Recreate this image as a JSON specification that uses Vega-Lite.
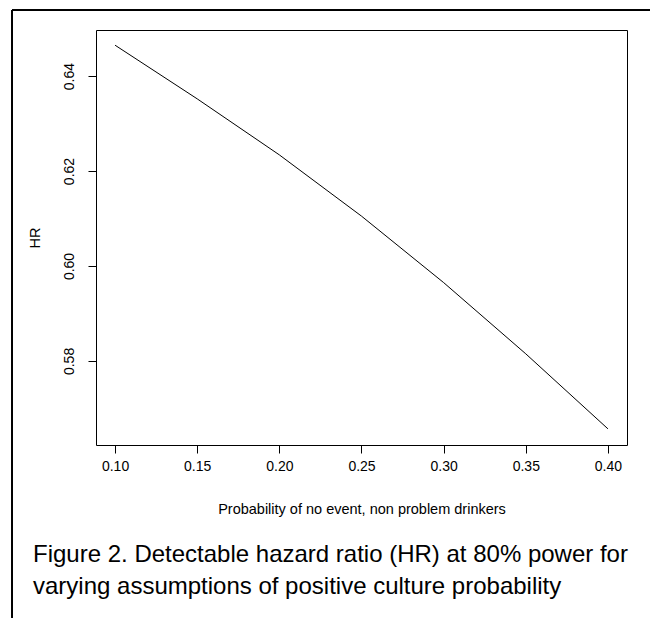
{
  "$schema": "https://vega.github.io/schema/vega-lite/v6.json",
  "width": 531,
  "height": 415,
  "autosize": "none",
  "padding": {"left": 96, "top": 30, "right": 23, "bottom": 173},
  "background": "white",
  "config": {
    "font": "Liberation Sans",
    "view": {"stroke": "black", "strokeWidth": 1},
    "axis": {
      "grid": false,
      "domain": false,
      "tickColor": "black",
      "tickSize": 8,
      "labelColor": "black",
      "labelFontSize": 14,
      "titleFontSize": 14.5,
      "titleFontWeight": "normal",
      "titleColor": "black",
      "labelFont": "Liberation Sans",
      "titleFont": "Liberation Sans"
    }
  },
  "title": {
    "text": ["Figure 2. Detectable hazard ratio (HR) at 80% power for", "varying assumptions of positive culture probability"],
    "orient": "bottom",
    "anchor": "start",
    "frame": "group",
    "dx": -63,
    "offset": -75,
    "fontSize": 24,
    "fontWeight": "normal",
    "lineHeight": 32,
    "color": "black",
    "font": "Liberation Sans"
  },
  "data": {
    "values": [
      {"p": 0.10, "hr": 0.6465},
      {"p": 0.15, "hr": 0.6352},
      {"p": 0.20, "hr": 0.6234},
      {"p": 0.25, "hr": 0.6105},
      {"p": 0.30, "hr": 0.5965},
      {"p": 0.35, "hr": 0.5815},
      {"p": 0.40, "hr": 0.5657}
    ]
  },
  "layer": [
    {
      "mark": {"type": "rule", "color": "black", "strokeWidth": 1, "clip": false},
      "encoding": {
        "x": {"datum": 0.0373, "type": "quantitative"},
        "y": {"datum": 0.6539, "type": "quantitative"},
        "y2": {"datum": 0.5259}
      }
    },
    {
      "mark": {"type": "rule", "color": "black", "strokeWidth": 1, "clip": false},
      "encoding": {
        "x": {"datum": 0.0373, "type": "quantitative"},
        "x2": {"datum": 0.4256},
        "y": {"datum": 0.6539, "type": "quantitative"}
      }
    },
    {
      "mark": {"type": "line", "color": "black", "strokeWidth": 1},
      "encoding": {
        "x": {
          "field": "p",
          "type": "quantitative",
          "scale": {"domain": [0.0884, 0.4116], "nice": false, "zero": false},
          "axis": {
            "title": "Probability of no event, non problem drinkers",
            "values": [0.1, 0.15, 0.2, 0.25, 0.3, 0.35, 0.4],
            "format": ".2f",
            "labelPadding": 6,
            "titlePadding": 29
          }
        },
        "y": {
          "field": "hr",
          "type": "quantitative",
          "scale": {"domain": [0.5623, 0.6497], "nice": false, "zero": false},
          "axis": {
            "title": "HR",
            "values": [0.58, 0.60, 0.62, 0.64],
            "format": ".2f",
            "labelAngle": -90,
            "labelAlign": "center",
            "labelBaseline": "bottom",
            "labelPadding": 12,
            "titlePadding": 20
          }
        }
      }
    }
  ]
}
